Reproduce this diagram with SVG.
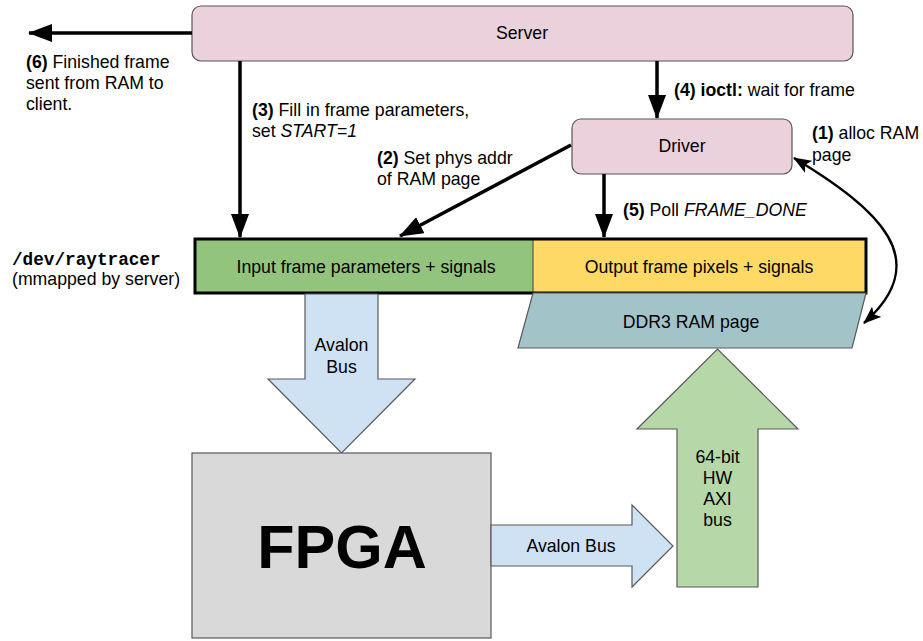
<svg xmlns="http://www.w3.org/2000/svg" width="923" height="641" viewBox="0 0 923 641">
<style>
text{font-family:"Liberation Sans",Arial,sans-serif;font-size:17.7px;fill:#000}
.c{text-anchor:middle}
.b{font-weight:bold}
.i{font-style:italic}
.node{fill:#ead1dc;stroke:#555;stroke-width:1.2}
.shape{stroke:#595959;stroke-width:1.2}
.wire{fill:none;stroke:#000;stroke-width:3.5}
</style>
<defs>
<marker id="ah" viewBox="0 0 24 18" refX="23" refY="9" markerWidth="24" markerHeight="18" markerUnits="userSpaceOnUse" orient="auto-start-reverse">
<path d="M0,0 L24,9 L0,18 Z" fill="#000"/>
</marker>
<marker id="ahs" viewBox="0 0 18 14" refX="17" refY="7" markerWidth="18" markerHeight="14" markerUnits="userSpaceOnUse" orient="auto-start-reverse">
<path d="M0,0 L18,7 L0,14 L4,7 Z" fill="#000"/>
</marker>
</defs>

<g id="server">
<rect class="node" x="192" y="6" width="661" height="55" rx="9"/>
<text class="c" x="522" y="39">Server</text>
</g>

<g id="driver">
<rect class="node" x="572" y="119" width="220" height="55" rx="9"/>
<text class="c" x="682" y="152">Driver</text>
</g>

<g id="input-frame">
<rect x="195" y="239" width="338" height="54" fill="#93c47d"/>
<text class="c" x="366" y="273">Input frame parameters + signals</text>
</g>
<g id="output-frame">
<rect x="533" y="239" width="333" height="54" fill="#ffd966"/>
<line x1="533" y1="239" x2="533" y2="293" stroke="#444" stroke-width="1"/>
<text class="c" x="699" y="273">Output frame pixels + signals</text>
</g>
<rect x="195" y="239" width="671" height="54" fill="none" stroke="#000" stroke-width="3"/>

<g id="ddr3">
<polygon class="shape" points="533,293 866,293 852,348 518,348" fill="#a2c4c9"/>
<text class="c" x="691" y="328">DDR3 RAM page</text>
</g>

<g id="avalon-down">
<polygon class="shape" points="305,294 378,294 378,379 415,379 341.5,453 268,379 305,379" fill="#cfe2f3"/>
<text class="c" x="341.5" y="351">Avalon</text>
<text class="c" x="341.5" y="373">Bus</text>
</g>

<g id="fpga">
<rect class="shape" x="192" y="453" width="299" height="185" fill="#d9d9d9"/>
<text class="c b" x="342" y="568" style="font-size:61px">FPGA</text>
</g>

<g id="avalon-right">
<polygon class="shape" points="491,525 632,525 632,505 673,546 632,587 632,566 491,566" fill="#cfe2f3"/>
<text class="c" x="571" y="552">Avalon Bus</text>
</g>

<g id="axi-up">
<polygon class="shape" points="677,587 677,429 637,429 717.5,349 798,429 758,429 758,587" fill="#b6d7a8"/>
<text class="c" x="717.5" y="463">64-bit</text>
<text class="c" x="717.5" y="484">HW</text>
<text class="c" x="717.5" y="505">AXI</text>
<text class="c" x="717.5" y="526">bus</text>
</g>

<g id="connectors">
<line class="wire" x1="192" y1="33" x2="29" y2="33" marker-end="url(#ah)"/>
<line class="wire" x1="240" y1="61" x2="240" y2="237" marker-end="url(#ah)"/>
<line class="wire" x1="657" y1="61" x2="657" y2="118" marker-end="url(#ah)"/>
<line class="wire" x1="571" y1="145" x2="400" y2="236" marker-end="url(#ah)"/>
<line class="wire" x1="604" y1="174" x2="604" y2="237" marker-end="url(#ah)"/>
<path d="M794,158 C880,210 935,260 864,323" fill="none" stroke="#000" stroke-width="2.5" marker-start="url(#ahs)" marker-end="url(#ahs)"/>
</g>

<g id="labels">
<text x="26" y="68"><tspan class="b">(6)</tspan> Finished frame</text>
<text x="26" y="89">sent from RAM to</text>
<text x="26" y="110">client.</text>
<text x="252" y="116"><tspan class="b">(3)</tspan> Fill in frame parameters,</text>
<text x="252" y="137">set <tspan class="i">START=1</tspan></text>
<text x="377" y="164"><tspan class="b">(2)</tspan> Set phys addr</text>
<text x="377" y="185">of RAM page</text>
<text x="674" y="96"><tspan class="b">(4) ioctl:</tspan> wait for frame</text>
<text x="812" y="139"><tspan class="b">(1)</tspan> alloc RAM</text>
<text x="812" y="161">page</text>
<text x="623" y="216"><tspan class="b">(5)</tspan> Poll <tspan class="i">FRAME_DONE</tspan></text>
<text x="12" y="265" class="b" style="font-family:'Liberation Mono','Courier New',monospace">/dev/raytracer</text>
<text x="12" y="285">(mmapped by server)</text>
</g>
</svg>
